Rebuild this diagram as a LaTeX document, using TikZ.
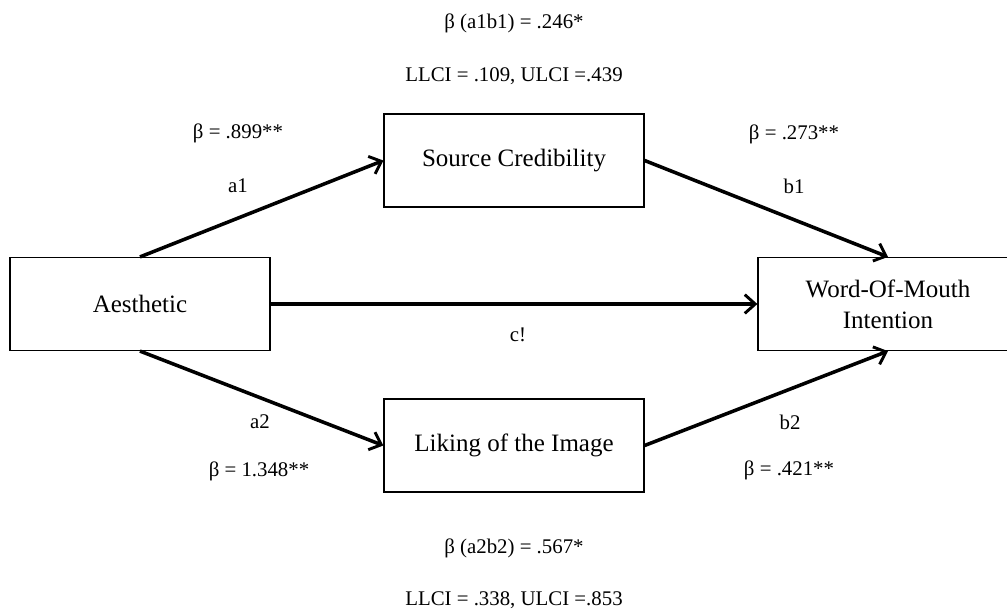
\documentclass[tikz,border=0pt]{standalone}
\usepackage{fontspec}
\setmainfont{Liberation Serif}
\usepackage{tikz}
\usetikzlibrary{arrows.meta}

\begin{document}
\begin{tikzpicture}[x=0.48pt,y=-0.48pt,
		varbox/.style={draw,line width=0.6pt,minimum width=124.8pt,minimum height=44.6pt,font=\large,align=center,inner sep=0pt},
		path/.style={line width=1.7pt,-{Straight Barb[length=5pt,width=9pt,line width=1.4pt]}},
		lbl/.style={inner sep=0pt}]
		\useasboundingbox (0,0) rectangle (1007,613);
		\clip (0,0) rectangle (1007,613);
		% variables
		\node[varbox] (aes) at (140,304) {Aesthetic};
		\node[varbox] (src) at (514,160.5) {Source Credibility};
		\node[varbox] (lik) at (514,445.5) {Liking of the Image};
		\node[varbox] (wom) at (888,304) {Word-Of-Mouth\\[1pt]Intention};
		% paths
		\draw[path] (aes.north) -- (src.west);
		\draw[path] (src.east) -- (wom.north);
		\draw[path] (aes.east) -- (wom.west);
		\draw[path] (aes.south) -- (lik.west);
		\draw[path] (lik.east) -- (wom.south);
		% coefficients
		\node[lbl] (ind1) at (514,23) {β (a1b1) = .246*};
		\node[lbl] (ci1) at (514,76) {LLCI = .109, ULCI =.439};
		\node[lbl] (ba1) at (238,133) {β = .899**};
		\node[lbl] (a1) at (238,186) {a1};
		\node[lbl] (bb1) at (794,134) {β = .273**};
		\node[lbl] (b1) at (794,186) {b1};
		\node[lbl] (c) at (518,335) {c!};
		\node[lbl] (a2) at (260,422) {a2};
		\node[lbl] (ba2) at (259,471) {β = 1.348**};
		\node[lbl] (b2) at (790,422) {b2};
		\node[lbl] (bb2) at (789,470) {β = .421**};
		\node[lbl] (ind2) at (514,548) {β (a2b2) = .567*};
		\node[lbl] (ci2) at (514,600) {LLCI = .338, ULCI =.853};
	\end{tikzpicture}
\end{document}
